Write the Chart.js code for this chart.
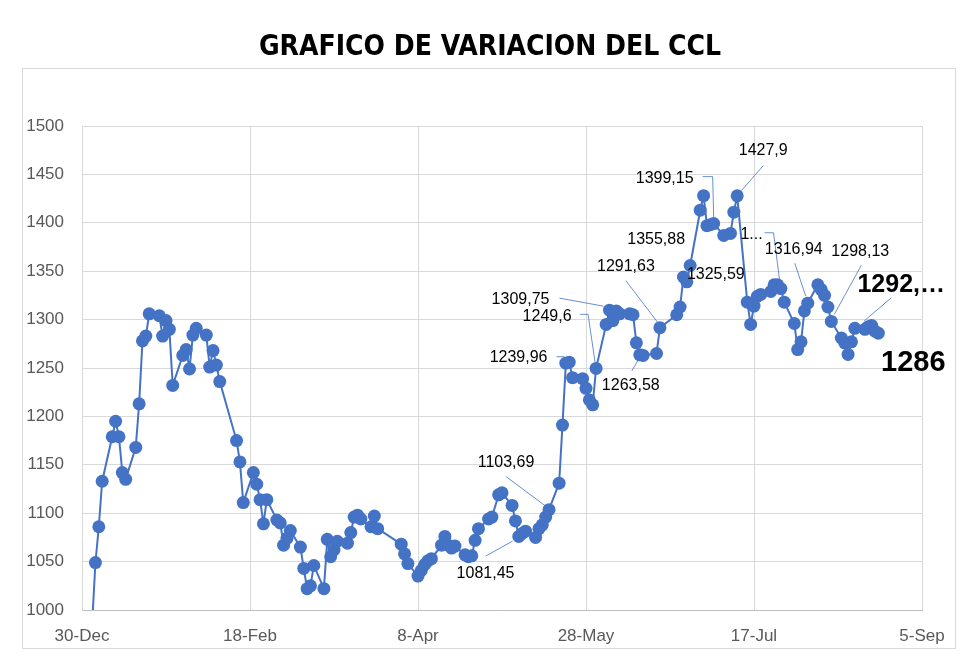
<!DOCTYPE html>
<html>
<head>
<meta charset="utf-8">
<script src="https://cdn.jsdelivr.net/npm/chart.js@4"></script>
<style>
  html, body { margin: 0; padding: 0; background: #fff; }
  canvas { display: block; }
</style>
</head>
<body>
<canvas id="c" width="980" height="660"></canvas>
<script>
// ── DATA ──────────────────────────────────────────────────────────────────────
// CCL quote per trading day
const dates = [
  '2024-01-02','2024-01-03','2024-01-04','2024-01-05','2024-01-08','2024-01-09','2024-01-10','2024-01-11','2024-01-12',
  '2024-01-15','2024-01-16','2024-01-17','2024-01-18','2024-01-19','2024-01-22','2024-01-23','2024-01-24','2024-01-25',
  '2024-01-26','2024-01-29','2024-01-30','2024-01-31','2024-02-01','2024-02-02','2024-02-05','2024-02-06','2024-02-07',
  '2024-02-08','2024-02-09','2024-02-14','2024-02-15','2024-02-16','2024-02-19','2024-02-20','2024-02-21','2024-02-22',
  '2024-02-23','2024-02-26','2024-02-27','2024-02-28','2024-02-29','2024-03-01','2024-03-04','2024-03-05','2024-03-06',
  '2024-03-07','2024-03-08','2024-03-11','2024-03-12','2024-03-13','2024-03-14','2024-03-15','2024-03-18','2024-03-19',
  '2024-03-20','2024-03-21','2024-03-22','2024-03-25','2024-03-26','2024-03-27','2024-04-03','2024-04-04','2024-04-05',
  '2024-04-08','2024-04-09','2024-04-10','2024-04-11','2024-04-12','2024-04-15','2024-04-16','2024-04-17','2024-04-18',
  '2024-04-19','2024-04-22','2024-04-23','2024-04-24','2024-04-25','2024-04-26','2024-04-29','2024-04-30','2024-05-02',
  '2024-05-03','2024-05-06','2024-05-07','2024-05-08','2024-05-09','2024-05-10','2024-05-13','2024-05-14','2024-05-15',
  '2024-05-16','2024-05-17','2024-05-20','2024-05-21','2024-05-22','2024-05-23','2024-05-24','2024-05-27','2024-05-28',
  '2024-05-29','2024-05-30','2024-05-31','2024-06-03','2024-06-04','2024-06-05','2024-06-06','2024-06-07','2024-06-10',
  '2024-06-11','2024-06-12','2024-06-13','2024-06-14','2024-06-18','2024-06-19','2024-06-24','2024-06-25','2024-06-26',
  '2024-06-27','2024-06-28','2024-07-01','2024-07-02','2024-07-03','2024-07-04','2024-07-05','2024-07-08','2024-07-10',
  '2024-07-11','2024-07-12','2024-07-15','2024-07-16','2024-07-17','2024-07-18','2024-07-19','2024-07-22','2024-07-23',
  '2024-07-24','2024-07-25','2024-07-26','2024-07-29','2024-07-30','2024-07-31','2024-08-01','2024-08-02','2024-08-05',
  '2024-08-06','2024-08-07','2024-08-08','2024-08-09','2024-08-12','2024-08-13','2024-08-14','2024-08-15','2024-08-16',
  '2024-08-19','2024-08-20','2024-08-21','2024-08-22','2024-08-23'
];
const ccl = [
  985, 1049, 1086, 1133, 1179, 1195, 1179, 1142, 1135,
  1168, 1213, 1278, 1283, 1306, 1304, 1283, 1299, 1290,
  1232, 1263, 1269, 1249, 1284, 1291, 1284, 1251, 1268,
  1253, 1236, 1175, 1153, 1111, 1142, 1130, 1114, 1089,
  1114, 1093, 1090, 1067, 1074, 1082, 1065, 1043, 1022,
  1025, 1046, 1022, 1073, 1055, 1062, 1071, 1069, 1080,
  1096, 1098, 1094, 1086, 1097, 1084, 1068, 1058, 1048,
  1035, 1041, 1047, 1051, 1053, 1067, 1076, 1067, 1064,
  1066, 1057, 1055, 1056, 1072, 1084, 1094, 1096, 1119,
  1121, 1108, 1092, 1076, 1079, 1081.45, 1075, 1084, 1088,
  1096, 1103.69, 1131, 1191, 1255, 1256, 1239.96, 1239, 1229,
  1217, 1212, 1249.6, 1295, 1309.75, 1299, 1309, 1306, 1306,
  1305, 1276, 1263.58, 1263, 1265, 1291.63, 1305, 1313, 1344,
  1339, 1355.88, 1413, 1428, 1397, 1398, 1399.15, 1387, 1389,
  1411, 1427.9, 1318, 1295, 1314, 1324, 1326, 1329, 1336,
  1336, 1332, 1318, 1296, 1269, 1277, 1309, 1316.94, 1336,
  1331, 1325, 1313, 1298.13, 1281, 1276, 1264, 1277, 1291,
  1290, 1292.5, 1294, 1288, 1286
];
const startDate = '2023-12-30';
const xTickLabels = ['30-Dec', '18-Feb', '8-Apr', '28-May', '17-Jul', '5-Sep'];
const yTicks = [1000, 1050, 1100, 1150, 1200, 1250, 1300, 1350, 1400, 1450, 1500];
const chartTitle = 'GRAFICO DE VARIACION DEL CCL';

// data labels shown in the picture: which date, what text
const labelDates = ['2024-05-10','2024-05-17','2024-05-24','2024-05-31','2024-06-04','2024-06-13','2024-06-19',
  '2024-06-28','2024-06-27','2024-07-05','2024-07-12','2024-07-24','2024-08-02','2024-08-09','2024-08-20','2024-08-23'];
const labelTexts = ['1081,45','1103,69','1239,96','1249,6','1309,75','1263,58','1291,63',
  '1355,88','1325,59','1399,15','1427,9','1...','1316,94','1298,13','1292,\u2026','1286'];

// ── LAYOUT OF THE LABELS (px offsets from their point) ───────────────────────
const labelLayout = [
  { dx: -40, dy:  42, lead: [[-40, 25], [-13, 10]] },
  { dx: -43, dy: -47, lead: [[-43, -33], [-4, -4]] },
  { dx: -54, dy: -20, lead: [[-16, -21], [-8, -21]] },
  { dx: -49, dy: -52, lead: [[-16, -54], [-8, -54], [-1, -6]] },
  { dx: -89, dy: -11, lead: [[-50, -12], [-6, -4]] },
  { dx:  -9, dy:  31, lead: [[-8, 16], [-2, 6]] },
  { dx: -34, dy: -61, lead: [[-34, -47], [-2, -5]] },
  { dx: -34, dy: -26 },
  { dx:  29, dy:  -7 },
  { dx: -49, dy: -45, lead: [[-11, -47], [-1, -47], [0, -6]] },
  { dx:  26, dy: -45, lead: [[26, -30], [4, -5]] },
  { dx: -26, dy: -50, lead: [[-13, -52], [-4, -52], [2, -5]] },
  { dx: -14, dy: -54, lead: [[-13, -40], [-2, -7]] },
  { dx:  29, dy: -70, lead: [[30, -56], [3, -7]] },
  { dx:  33, dy: -42, lead: [[23, -29], [-4, -6]], font: 'bold 25px "Liberation Sans", Arial, sans-serif' },
  { dx:  35, dy:  30, font: 'bold 29px "Liberation Sans", Arial, sans-serif' }
];

const BLUE = '#4472c4';
const GRID = '#d9d9d9';
const dayOf = s => (Date.parse(s) - Date.parse(startDate)) / 864e5;

// ── PLUGINS ──────────────────────────────────────────────────────────────────
// white page, light frame round the plot, title centred on the page
const framePlugin = {
  id: 'frame',
  beforeDraw(chart) {
    const { ctx, width, height } = chart;
    ctx.save();
    ctx.fillStyle = '#fff';
    ctx.fillRect(0, 0, width, height);
    ctx.strokeStyle = GRID;
    ctx.lineWidth = 1;
    ctx.strokeRect(22.5, 68.5, 933, 580);
    ctx.fillStyle = '#000';
    ctx.font = 'bold 28px "Liberation Sans Narrow", "DejaVu Sans Condensed", "Liberation Sans", sans-serif';
    ctx.textAlign = 'center';
    ctx.textBaseline = 'middle';
    ctx.fillText(chartTitle, width / 2, 48);
    ctx.restore();
  }
};

const calloutPlugin = {
  id: 'callouts',
  beforeDatasetsDraw(chart) {
    const { ctx } = chart;
    const pts = chart.getDatasetMeta(0).data;
    ctx.save();
    ctx.strokeStyle = BLUE;
    ctx.lineWidth = 0.8;
    labelDates.forEach((d, i) => {
      const lay = labelLayout[i];
      if (!lay.lead) return;
      const p = pts[dates.indexOf(d)];
      ctx.beginPath();
      lay.lead.forEach(([ox, oy], k) => {
        if (k === 0) ctx.moveTo(p.x + ox, p.y + oy); else ctx.lineTo(p.x + ox, p.y + oy);
      });
      ctx.stroke();
    });
    ctx.restore();
  },
  afterDatasetsDraw(chart) {
    const { ctx } = chart;
    const pts = chart.getDatasetMeta(0).data;
    ctx.save();
    ctx.fillStyle = '#000';
    ctx.textAlign = 'center';
    ctx.textBaseline = 'middle';
    labelDates.forEach((d, i) => {
      const lay = labelLayout[i];
      const p = pts[dates.indexOf(d)];
      ctx.font = lay.font || '16px "Liberation Sans", Arial, sans-serif';
      ctx.fillText(labelTexts[i], p.x + lay.dx, p.y + lay.dy);
    });
    ctx.restore();
  }
};

// ── CHART ────────────────────────────────────────────────────────────────────
new Chart(document.getElementById('c'), {
  type: 'line',
  data: {
    datasets: [{
      data: dates.map((d, i) => ({ x: dayOf(d), y: ccl[i] })),
      borderColor: BLUE,
      backgroundColor: BLUE,
      borderWidth: 2,
      pointRadius: 6.5,
      pointBorderWidth: 0,
      pointBackgroundColor: BLUE,
      tension: 0
    }]
  },
  options: {
    responsive: false,
    animation: false,
    events: [],
    layout: { padding: { left: 22, right: 58, top: 126, bottom: 10 } },
    plugins: {
      legend: { display: false },
      tooltip: { enabled: false },
      title: { display: false }
    },
    scales: {
      x: {
        type: 'linear',
        min: 0,
        max: 250,
        afterBuildTicks(scale) { scale.ticks = xTickLabels.map((_, i) => ({ value: i * 50 })); },
        afterFit(scale) { scale.height = 40; },
        ticks: {
          callback: v => xTickLabels[Math.round(v / 50)],
          color: '#595959',
          font: { family: '"Liberation Sans", Arial, sans-serif', size: 17 },
          padding: 16,
          maxRotation: 0
        },
        grid: { color: GRID, lineWidth: 1, drawTicks: false },
        border: { color: '#bfbfbf' }
      },
      y: {
        min: 1000,
        max: 1500,
        afterBuildTicks(scale) { scale.ticks = yTicks.map(v => ({ value: v })); },
        afterFit(scale) { scale.width = 60; },
        ticks: {
          callback: v => String(v),
          color: '#595959',
          font: { family: '"Liberation Sans", Arial, sans-serif', size: 17 },
          padding: 18
        },
        grid: { color: GRID, lineWidth: 1, drawTicks: false },
        border: { color: GRID }
      }
    }
  },
  plugins: [framePlugin, calloutPlugin]
});
</script>
</body>
</html>
